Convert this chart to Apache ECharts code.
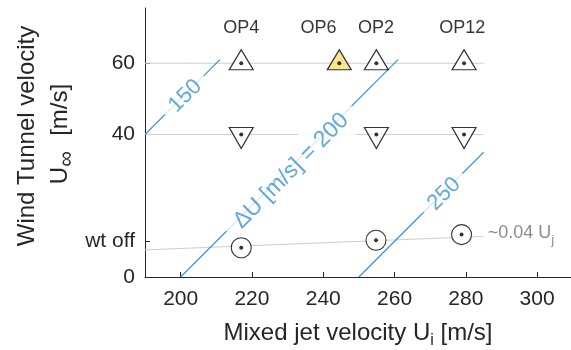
<!DOCTYPE html>
<html><head><meta charset="utf-8">
<script src="https://cdn.jsdelivr.net/npm/echarts@6/dist/echarts.min.js"></script>
<style>html,body{margin:0;padding:0;background:#fff}#c{width:571px;height:350px}</style>
</head><body><div id="c"></div>
<script>
// ---- data ----
const xTicks = [200, 220, 240, 260, 280, 300];
const yTicks = [0, 10, 40, 60];
const yTickLabels = ['0', 'wt off', '40', '60'];
const opNames = ['OP4', 'OP6', 'OP2', 'OP12'];
const opLabelX = [217, 238.7, 254.8, 279];
const opLabelY = [70, 70, 70, 70];
const upX = [217, 244.5, 254.9, 279.5];      // U∞ = 60 m/s
const upY = [60, 60, 60, 60];
const upHighlighted = [false, true, false, false];
const downX = [217, 254.9, 279.5];          // U∞ = 40 m/s
const downY = [40, 40, 40];
const offX = [217, 254.8, 278.8];           // wind tunnel off
const offY = [8.2, 10.3, 11.9];
const refLevels = [40, 60];
const refXRange = [190, 285];
const fitX = [190, 285];                    // ~0.04 Uj
const fitY = [7.6, 11.4];
const dU = [150, 200, 250];
const dUStartX = [190, 200, 250];
const dUStartY = [40, 0, 0];
const dUEndX = [211, 261, 285];
const dUEndY = [61, 61, 35];
const dULabelX = [201.3, 231, 273.9];
const dULabelY = [50.8, 29.8, 23.3];
const dULabelText = ['150', 'ΔU [m/s] = 200', '250'];

const FONT = 'Liberation Sans, Arial, Helvetica, sans-serif';
const BLUE = '#3b93cf';
const AX = '#262626';

const chart = echarts.init(document.getElementById('c'), null, {renderer: 'canvas'});

const series = [];
refLevels.forEach(lv => {
  series.push({type: 'line', data: [[refXRange[0], lv], [refXRange[1], lv]], symbol: 'none',
    lineStyle: {color: '#cfcfcf', width: 1}, z: 1, silent: true, animation: false});
});
series.push({type: 'line', data: fitX.map((x, i) => [x, fitY[i]]), symbol: 'none',
  lineStyle: {color: '#cfcfcf', width: 1}, z: 1, animation: false});
dU.forEach((d, i) => {
  series.push({type: 'line', data: [[dUStartX[i], dUStartY[i]], [dUEndX[i], dUEndY[i]]], symbol: 'none',
    itemStyle: {color: BLUE},
    lineStyle: {color: BLUE, width: 1.2}, z: 2, animation: false});
});
const pads = [[8, 9], [9, 12], [8, 9]];
const sizes = [22, 23, 22];
series.push({type: 'scatter', symbolSize: 0, z: 5, animation: false,
  data: dULabelText.map((t, i) => ({value: [dULabelX[i], dULabelY[i], t],
    label: {padding: pads[i], fontSize: sizes[i]}})),
  label: {show: true, position: 'inside', rotate: 45, formatter: p => p.data.value[2],
    color: BLUE, fontSize: 22, fontFamily: FONT, backgroundColor: '#fff',
    align: 'center', verticalAlign: 'middle'}
});
// fit label
series.push({type: 'scatter', symbolSize: 0, z: 5, animation: false,
  data: [[fitX[1], fitY[1]]],
  label: {show: true, position: 'right', distance: 4, offset: [0, -3],
    formatter: '{a|~0.04 U}{s|j}',
    rich: {a: {fontSize: 18, color: '#6e6e6e', fontFamily: FONT},
           s: {fontSize: 13, color: '#6e6e6e', fontFamily: FONT, padding: [14, 0, 0, 0]}}}
});
// OP labels
series.push({type: 'scatter', symbolSize: 0, z: 5, animation: false,
  data: opNames.map((n, i) => [opLabelX[i], opLabelY[i], n]),
  label: {show: true, position: 'inside', formatter: p => p.data[2], color: '#000',
    fontSize: 18, fontFamily: FONT}
});
// markers
series.push({type: 'scatter', symbol: 'triangle', symbolSize: [24, 20], symbolOffset: [0, -3.5], z: 10,
  animation: false,
  data: upX.map((x, i) => ({value: [x, upY[i]], itemStyle: {color: upHighlighted[i] ? '#f9df78' : '#fff'}})),
  itemStyle: {borderColor: '#000', borderWidth: 1.2}
});
series.push({type: 'scatter', symbol: 'path://M0,0 L2,0 L1,1.7 Z', symbolSize: [24, 21], symbolOffset: [0, 3.5], z: 10,
  animation: false, symbolKeepAspect: false,
  data: downX.map((x, i) => [x, downY[i]]),
  itemStyle: {color: '#fff', borderColor: '#000', borderWidth: 1.2}
});
series.push({type: 'scatter', symbol: 'circle', symbolSize: 20, z: 10, animation: false,
  data: offX.map((x, i) => [x, offY[i]]),
  itemStyle: {color: '#fff', borderColor: '#000', borderWidth: 1.1}
});
// centre dots
series.push({type: 'scatter', symbol: 'circle', symbolSize: 4, z: 12, animation: false,
  data: upX.map((x, i) => [x, upY[i]]).concat(downX.map((x, i) => [x, downY[i]]), offX.map((x, i) => [x, offY[i]])),
  itemStyle: {color: '#000'}
});

chart.setOption({
  backgroundColor: '#fff',
  animation: false,
  grid: {left: 145, right: 0, top: 8, bottom: 73, containLabel: false, outerBoundsMode: 'none'},
  xAxis: {type: 'value', min: 190, max: 309.5,
    name: '{a|Mixed jet velocity U}{s|i}{a| [m/s]}', nameLocation: 'middle', nameGap: 40,
    nameTextStyle: {rich: {a: {fontSize: 24, color: AX, fontFamily: FONT},
      s: {fontSize: 16, color: AX, fontFamily: FONT, padding: [16, 0, 0, 0]}}},
    axisLine: {show: true, onZero: false, lineStyle: {color: AX, width: 1}},
    axisTick: {show: true, inside: true, length: 5, customValues: xTicks, lineStyle: {color: AX}},
    axisLabel: {customValues: xTicks, color: AX, fontSize: 21, fontFamily: FONT, margin: 12},
    splitLine: {show: false}
  },
  yAxis: {type: 'value', min: 0, max: 75.5,
    axisLine: {show: true, onZero: false, lineStyle: {color: AX, width: 1}},
    axisTick: {show: true, inside: true, length: 5, customValues: yTicks, lineStyle: {color: AX}},
    axisLabel: {customValues: yTicks, color: AX, fontSize: 21, fontFamily: FONT, margin: 10,
      formatter: v => yTickLabels[yTicks.indexOf(v)]},
    splitLine: {show: false}
  },
  graphic: [
    {type: 'text', x: 27, y: 136, rotation: Math.PI / 2, silent: true,
      style: {text: 'Wind Tunnel velocity', font: '24px ' + FONT, fill: AX, align: 'center', verticalAlign: 'middle'}},
    {type: 'text', x: 60, y: 134, rotation: Math.PI / 2, silent: true,
      style: {text: '{a|U}{s|∞}{a|  [m/s]}', align: 'center', verticalAlign: 'middle',
        rich: {a: {fontSize: 24, fill: AX, fontFamily: FONT}, s: {fontSize: 22, fill: AX, fontFamily: FONT, padding: [14, 2, 0, 0]}}}}
  ],
  series: series
});
</script></body></html>
